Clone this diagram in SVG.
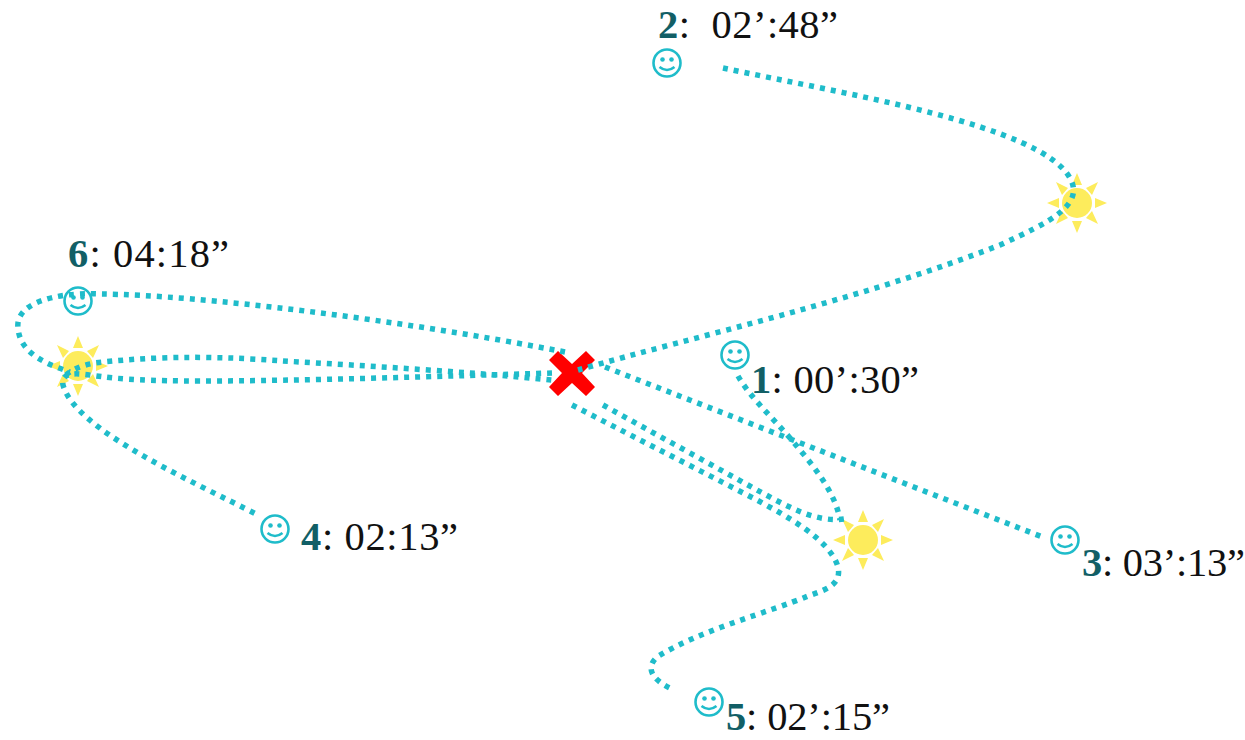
<svg xmlns="http://www.w3.org/2000/svg" width="1245" height="740" viewBox="0 0 1245 740">
<style>
.r{fill:none;stroke:#1fbcca;stroke-width:5.5;stroke-dasharray:5 6}
.s{fill:none;stroke:#1fbcca;stroke-width:2.6}
.e{fill:#1fbcca}
.ray{fill:#fdec5c}
text{font-family:"Liberation Serif","DejaVu Serif",serif;font-size:40.5px;fill:#111;white-space:pre}
.n{font-weight:bold;fill:#125f66}
</style>
<defs>
<g id="sun"><circle r="15" class="ray"/>
<path class="ray" d="M0,-30L5,-18H-5ZM0,30L5,18H-5ZM-30,0L-18,-5V5ZM30,0L18,-5V5ZM-21,-21L-9,-15L-15,-8ZM21,-21L9,-15L15,-8ZM-21,21L-9,15L-15,8ZM21,21L9,15L15,8Z"/></g>
<g id="smile"><circle r="13.5" class="s"/><circle cx="-4.5" cy="-3.5" r="2.3" class="e"/><circle cx="4.5" cy="-3.5" r="2.3" class="e"/><path class="s" d="M-7.5,4Q0,10 7.5,4"/></g>
</defs>
<g id="sun-a"><use href="#sun" x="1077" y="203"/></g>
<g id="sun-b"><use href="#sun" x="863" y="540"/></g>
<g id="sun-c"><use href="#sun" x="78" y="366"/></g>
<g id="cross"><path fill="#f00" d="M558,351L572,364L586,351L595,360L582,373L595,387L586,396L572,383L558,396L549,387L562,373L549,360Z"/></g>
<g id="connectors">
<path class="r" d="M723,68C850,95 1040,125 1070,178C1085,205 1050,222 1000,245C860,300 700,335 578,370"/>
<path class="r" d="M738,376C750,397 770,415 790,438C810,462 835,490 840,520"/>
<path class="r" d="M605,367L1045,538"/>
<path class="r" d="M603,405L757,490C785,505 815,523 844,519"/>
<path class="r" d="M572,405L755,499C790,518 830,540 838,567C842,585 825,590 808,596C770,612 700,630 657,657C645,668 652,680 672,689"/>
<path class="r" d="M552,373C450,376 300,381 200,381C150,381 120,379 105,377C85,375 60,368 63,385C75,430 190,480 258,515"/>
<path class="r" d="M565,352C400,320 200,295 100,294C50,292 15,305 18,328C20,355 50,365 70,372"/>
<path class="r" d="M66,375C75,367 90,363 103,362C170,355 230,357 283,361C370,366 470,372 552,380"/>
</g>
<g id="node-1"><use href="#smile" x="735" y="355"/><text x="751" y="393" textLength="168"><tspan class="n">1</tspan>: 00’:30”</text></g>
<g id="node-2"><use href="#smile" x="667" y="63"/><text x="658" y="38" textLength="180"><tspan class="n">2</tspan>:  02’:48”</text></g>
<g id="node-3"><use href="#smile" x="1065" y="540"/><text x="1082" y="576" textLength="163"><tspan class="n">3</tspan>: 03’:13”</text></g>
<g id="node-4"><use href="#smile" x="275" y="529"/><text x="301" y="550" textLength="157"><tspan class="n">4</tspan>: 02:13”</text></g>
<g id="node-5"><use href="#smile" x="709" y="702"/><text x="726" y="730" textLength="164"><tspan class="n">5</tspan>: 02’:15”</text></g>
<g id="node-6"><use href="#smile" x="78" y="301"/><text x="68" y="267" textLength="161"><tspan class="n">6</tspan>: 04:18”</text></g>
</svg>
